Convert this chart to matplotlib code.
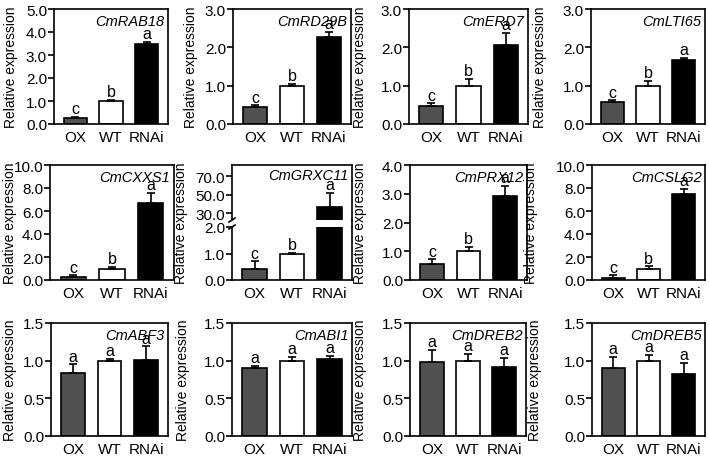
import matplotlib
matplotlib.use("Agg")
import matplotlib.pyplot as plt
from matplotlib.lines import Line2D
import numpy as np

plt.rcParams["font.family"] = ["Liberation Sans", "DejaVu Sans"]
plt.rcParams["font.size"] = 10

groups = ["OX", "WT", "RNAi"]
genes = ["CmRAB18", "CmRD29B", "CmERD7", "CmLTI65",
         "CmCXXS1", "CmGRXC11", "CmPRX12", "CmCSLG2",
         "CmABF3", "CmABI1", "CmDREB2", "CmDREB5"]
means = [
    [0.27, 1.00, 3.50],
    [0.45, 1.00, 2.28],
    [0.48, 1.00, 2.05],
    [0.58, 1.00, 1.68],
    [0.30, 1.00, 6.70],
    [0.42, 1.00, 37.0],
    [0.55, 1.00, 2.92],
    [0.20, 1.00, 7.45],
    [0.83, 1.00, 1.01],
    [0.90, 1.00, 1.02],
    [0.98, 1.00, 0.91],
    [0.90, 1.00, 0.82],
]
errors = [
    [0.05, 0.05, 0.07],
    [0.04, 0.04, 0.12],
    [0.06, 0.17, 0.32],
    [0.04, 0.13, 0.05],
    [0.10, 0.15, 0.85],
    [0.28, 0.03, 15.0],
    [0.17, 0.15, 0.35],
    [0.20, 0.20, 0.50],
    [0.12, 0.02, 0.18],
    [0.03, 0.05, 0.04],
    [0.16, 0.09, 0.13],
    [0.15, 0.08, 0.15],
]
letters = [["c", "b", "a"]] * 8 + [["a", "a", "a"]] * 4
y_max = [5, 3, 3, 3, 10, 2, 4, 10, 1.5, 1.5, 1.5, 1.5]
y_step = [1, 1, 1, 1, 2, 1, 1, 2, 0.5, 0.5, 0.5, 0.5]
# broken upper segment for CmGRXC11
upper_lim = (23, 82)
upper_ticks = [30, 50, 70]

colors = ["#505050", "white", "black"]

W, H = 709, 460
# panel boxes in pixels: left, top, right, bottom
boxes = [
    (54, 10, 168, 125), (233, 10, 351, 125), (409, 10, 528, 125), (591, 10, 705, 125),
    (50, 166, 174, 281), (232, 166, 352, 281), (410, 166, 527, 281), (592, 166, 705, 281),
    (51, 324, 168, 437), (232, 324, 352, 437), (410, 324, 526, 437), (592, 324, 705, 437),
]
# x centre of each y label, pixels
label_x = [11, 191, 360, 540,
           10, 181, 360, 531,
           10, 183, 360, 535]

TICK_FS = 11


def frac(l, t, r, b):
    return [l / W, 1 - b / H, (r - l) / W, (b - t) / H]


def style(ax):
    for s in ax.spines.values():
        s.set_linewidth(1.2)
    ax.tick_params(axis="y", direction="out", length=4, width=1.2, pad=1, labelsize=TICK_FS)
    ax.tick_params(axis="x", length=0, pad=4, labelsize=TICK_FS)
    ax.set_xlim(-0.6, 2.6)


def draw_bars(ax, m, e, lw=1.2):
    x = np.arange(len(groups))
    ax.bar(x, m, width=0.65, color=colors, edgecolor="black", linewidth=lw, zorder=2)
    ax.errorbar(x, m, yerr=[np.zeros(len(e)), e], fmt="none", ecolor="black",
                elinewidth=1.2, capsize=3, capthick=1.2, zorder=3)


fig = plt.figure(figsize=(W / 100, H / 100), dpi=100)

for i, gene in enumerate(genes):
    l, t, r, b = boxes[i]
    x = np.arange(len(groups))
    m = np.array(means[i])
    e = np.array(errors[i])

    fig.text(label_x[i] / W, 1 - ((t + b) / 2) / H, "Relative expression",
             rotation=90, ha="center", va="center", fontsize=10)

    if gene == "CmGRXC11":
        split = 228
        top_px = 221
        ax_lo = fig.add_axes(frac(l, split, r, b))
        ax_hi = fig.add_axes(frac(l, t, r, top_px))
        for ax in (ax_lo, ax_hi):
            style(ax)
            draw_bars(ax, m, e)
        ax_lo.set_ylim(0, y_max[i])
        ax_lo.set_yticks(np.arange(0, y_max[i] + 0.01, y_step[i]))
        ax_lo.yaxis.set_major_formatter(plt.FormatStrFormatter("%.1f"))
        ax_hi.set_ylim(*upper_lim)
        ax_hi.set_yticks(upper_ticks)
        ax_hi.yaxis.set_major_formatter(plt.FormatStrFormatter("%.1f"))
        ax_lo.spines["top"].set_visible(False)
        ax_hi.spines["bottom"].set_visible(False)
        ax_hi.set_xticks([])
        ax_lo.set_xticks(x)
        ax_lo.set_xticklabels(groups)
        # right spine continues across gap, left spine gets break marks
        fig.add_artist(Line2D([r / W, r / W], [1 - split / H, 1 - top_px / H],
                              color="black", lw=1.2))
        for yy in (top_px, split):
            fig.add_artist(Line2D([(l - 3) / W, (l + 3) / W],
                                  [1 - (yy + 2) / H, 1 - (yy - 2) / H],
                                  color="black", lw=1.2))
        for j in range(len(groups)):
            top = m[j] + e[j]
            target = ax_hi if top > y_max[i] else ax_lo
            target.annotate(letters[i][j], (x[j], top), xytext=(0, 0.5),
                            textcoords="offset points", ha="center", va="bottom",
                            fontsize=11.5)
        ax_hi.text(0.97, 0.94, gene, transform=ax_hi.transAxes, ha="right", va="top",
                   style="italic", fontsize=10.5)
        continue

    ax = fig.add_axes(frac(l, t, r, b))
    style(ax)
    draw_bars(ax, m, e)
    ax.set_ylim(0, y_max[i])
    ax.set_yticks(np.arange(0, y_max[i] + 0.001, y_step[i]))
    ax.yaxis.set_major_formatter(plt.FormatStrFormatter("%.1f"))
    ax.set_xticks(x)
    ax.set_xticklabels(groups)
    for j in range(len(groups)):
        ax.annotate(letters[i][j], (x[j], m[j] + e[j]), xytext=(0, 0.5),
                    textcoords="offset points", ha="center", va="bottom", fontsize=11.5)
    ax.text(0.97, 0.96, gene, transform=ax.transAxes, ha="right", va="top",
            style="italic", fontsize=10.5)

fig.savefig("out.png", dpi=100)
